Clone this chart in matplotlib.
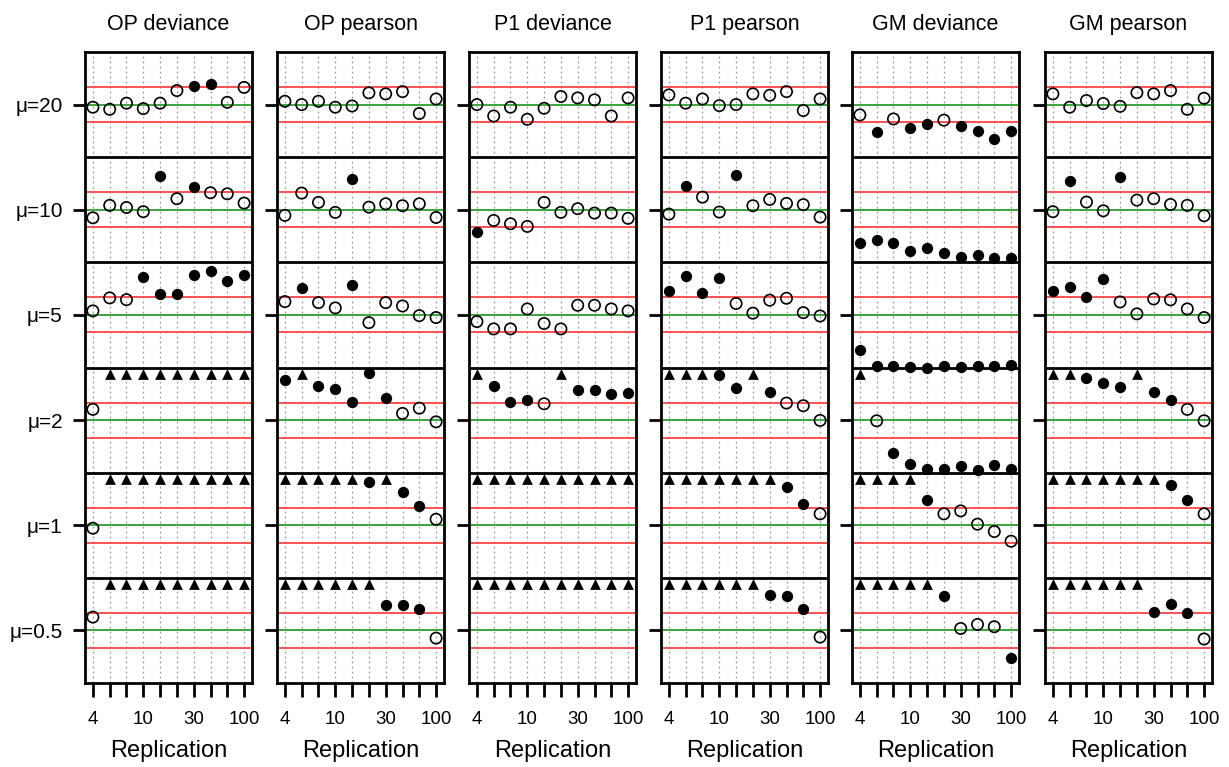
import numpy as np
import matplotlib
matplotlib.use("Agg")
import matplotlib.pyplot as plt

plt.rcParams['font.family'] = ['Liberation Sans', 'DejaVu Sans']

## titles and labels
panel_titles = ["OP deviance", "OP pearson", "P1 deviance", "P1 pearson", "GM deviance", "GM pearson"]
mu_labels = ["\u03bc=20", "\u03bc=10", "\u03bc=5", "\u03bc=2", "\u03bc=1", "\u03bc=0.5"]
replication = [4, 6, 8, 10, 15, 20, 30, 40, 60, 100]
shown_reps = [4, 10, 30, 100]

## standardised error of the estimate (1 = limit), inf = off the scale
inf = np.inf
op_dev = [
    [-0.15, -0.27, 0.08, -0.23, 0.08, 0.80, 1.08, 1.16, 0.13, 0.98],
    [-0.46, 0.25, 0.13, -0.11, 1.94, 0.63, 1.27, 0.97, 0.91, 0.38],
    [0.23, 0.97, 0.87, 2.15, 1.20, 1.20, 2.28, 2.51, 1.96, 2.28],
    [0.61, inf, inf, inf, inf, inf, inf, inf, inf, inf],
    [-0.17, inf, inf, inf, inf, inf, inf, inf, inf, inf],
    [0.76, inf, inf, inf, inf, inf, inf, inf, inf, inf],
]
op_pear = [
    [0.19, 0.0, 0.19, -0.15, -0.08, 0.67, 0.61, 0.74, -0.51, 0.32],
    [-0.32, 0.95, 0.42, -0.15, 1.73, 0.15, 0.34, 0.23, 0.34, -0.44],
    [0.76, 1.54, 0.70, 0.40, 1.71, -0.44, 0.70, 0.51, -0.04, -0.15],
    [2.30, inf, 1.96, 1.77, 1.05, 2.68, 1.24, 0.38, 0.68, -0.10],
    [inf, inf, inf, inf, inf, 2.45, inf, 1.92, 1.12, 0.34],
    [inf, inf, inf, inf, inf, inf, 1.46, 1.46, 1.20, -0.44],
]
p1_dev = [
    [0.0, -0.65, -0.15, -0.84, -0.21, 0.46, 0.38, 0.27, -0.65, 0.38],
    [-1.25, -0.61, -0.80, -0.95, 0.42, -0.15, 0.06, -0.19, -0.19, -0.49],
    [-0.38, -0.80, -0.80, 0.34, -0.49, -0.80, 0.55, 0.55, 0.34, 0.23],
    [inf, 1.96, 1.05, 1.16, 0.93, inf, 1.73, 1.69, 1.48, 1.54],
    [inf, inf, inf, inf, inf, inf, inf, inf, inf, inf],
    [inf, inf, inf, inf, inf, inf, inf, inf, inf, inf],
]
p1_pear = [
    [0.55, 0.08, 0.32, -0.06, 0.0, 0.61, 0.53, 0.74, -0.34, 0.32],
    [-0.25, 1.37, 0.72, -0.13, 1.98, 0.23, 0.59, 0.36, 0.29, -0.42],
    [1.37, 2.21, 1.25, 2.13, 0.65, 0.10, 0.84, 0.95, 0.13, -0.06],
    [inf, inf, inf, 2.60, 1.81, inf, 1.60, 0.97, 0.82, -0.02],
    [inf, inf, inf, inf, inf, inf, inf, 2.21, 1.24, 0.65],
    [inf, inf, inf, inf, inf, inf, 2.02, 1.94, 1.24, -0.38],
]
gm_dev = [
    [-0.59, -1.56, -0.82, -1.31, -1.12, -0.89, -1.25, -1.50, -1.98, -1.50],
    [-1.92, -1.71, -1.92, -2.36, -2.17, -2.47, -2.70, -2.59, -2.76, -2.76],
    [-2.0, -2.91, -2.91, -2.95, -3.0, -2.91, -2.98, -2.91, -2.91, -2.83],
    [inf, -0.04, -1.88, -2.49, -2.78, -2.78, -2.64, -2.85, -2.57, -2.78],
    [inf, inf, inf, inf, 1.45, 0.65, 0.82, 0.06, -0.36, -0.91],
    [inf, inf, inf, inf, inf, 1.96, 0.11, 0.34, 0.21, -1.60],
]
gm_pear = [
    [0.61, -0.15, 0.23, 0.06, -0.10, 0.68, 0.61, 0.80, -0.27, 0.36],
    [-0.11, 1.63, 0.44, -0.06, 1.86, 0.55, 0.63, 0.30, 0.25, -0.34],
    [1.37, 1.62, 1.05, 2.07, 0.74, 0.06, 0.91, 0.86, 0.34, -0.15],
    [inf, inf, 2.38, 2.11, 1.88, inf, 1.63, 1.16, 0.61, -0.04],
    [inf, inf, inf, inf, inf, inf, inf, 2.32, 1.44, 0.65],
    [inf, inf, inf, inf, inf, inf, 1.05, 1.52, 1.02, -0.49],
]
panels = [op_dev, op_pear, p1_dev, p1_pear, gm_dev, gm_pear]

W, H = 1229, 767
fig = plt.figure(figsize=(W / 100, H / 100), dpi=100)

lefts = [85, 277, 469, 661, 852, 1045]
top, bottom, width = 52, 683, 167
nrow = len(mu_labels)
x = np.arange(len(replication))

for k, data in enumerate(panels):
    ax = fig.add_axes([lefts[k] / W, 1 - bottom / H, width / W, (bottom - top) / H])
    centers = []
    for i, row in enumerate(data):
        c = 6 * (nrow - 1 - i) + 3
        centers.append(c)
        ax.axhline(c, color="#3aa53a", lw=1.4, zorder=2)
        ax.axhline(c + 1, color="#ff5050", lw=1.4, zorder=2)
        ax.axhline(c - 1, color="#ff5050", lw=1.4, zorder=2)
        if i > 0:
            ax.axhline(c + 3, color="black", lw=2, zorder=3)
        v = np.array(row)
        off = np.isinf(v)
        out = ~off & (np.abs(v) > 1)
        ok = ~off & ~out
        ax.scatter(x[off], np.full(off.sum(), c + 2.65), marker="^", s=60,
                   color="black", zorder=4, linewidths=0)
        ax.scatter(x[out], c + v[out], marker="o", s=66, color="black",
                   zorder=4, linewidths=0)
        ax.scatter(x[ok], c + v[ok], marker="o", s=66, facecolors="none",
                   edgecolors="black", linewidths=1.2, zorder=4)
    for xi in x:
        ax.axvline(xi, color="#999999", lw=0.9, ls=(0, (1.5, 2.5)), zorder=1)
    ax.set_xlim(-0.47, len(x) - 0.53)
    ax.set_ylim(0, 6 * nrow)
    for s in ax.spines.values():
        s.set_linewidth(2)
    ax.set_xticks(x)
    ax.set_xticklabels([str(r) if r in shown_reps else "" for r in replication], fontsize=13.5)
    ax.tick_params(axis="x", length=10, width=2, pad=10)
    ax.set_yticks(centers)
    if k == 0:
        ax.set_yticklabels(mu_labels, fontsize=15)
    else:
        ax.set_yticklabels([])
    ax.tick_params(axis="y", length=9, width=2, pad=7)
    ax.set_title(panel_titles[k], fontsize=15.5, pad=16)
    ax.set_xlabel("Replication", fontsize=17, labelpad=9)

fig.savefig("out.png", dpi=100, facecolor="white")
